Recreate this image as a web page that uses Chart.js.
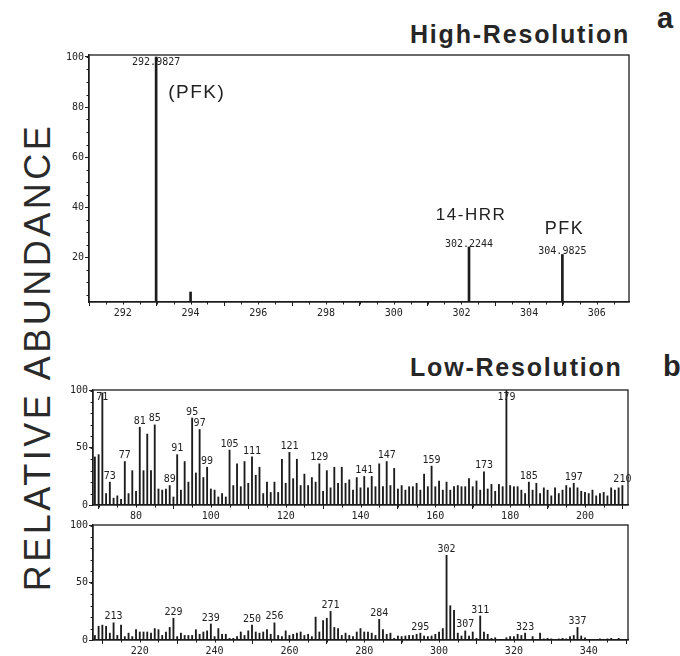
<!DOCTYPE html>
<html>
<head>
<meta charset="utf-8">
<script src="https://cdn.jsdelivr.net/npm/chart.js@4/dist/chart.umd.min.js"></script>
<style>
  html, body { margin:0; padding:0; background:#fff; }
  body { width:680px; height:656px; position:relative; overflow:hidden; font-family:"Liberation Sans", Arial, sans-serif; color:#262626; }
  canvas { position:absolute; left:0; }
  .ttl { position:absolute; font-weight:bold; font-size:25px; line-height:25px; letter-spacing:1.8px; white-space:nowrap; }
  .let { position:absolute; font-weight:bold; font-size:29px; line-height:29px; white-space:nowrap; }
  .ylab { position:absolute; width:520px; left:-222px; top:338px; text-align:center; font-size:36px; line-height:38px; letter-spacing:3.5px; transform:rotate(-90deg); transform-origin:50% 50%; white-space:nowrap; color:#2a2a2a; }
</style>
</head>
<body>
<div class="ttl" style="left:410px; top:22px;">High-Resolution</div>
<div class="let" style="left:657px; top:4px;">a</div>
<div class="ttl" style="left:410px; top:355px;">Low-Resolution</div>
<div class="let" style="left:663px; top:352px;">b</div>
<div class="ylab">RELATIVE ABUNDANCE</div>

<canvas id="cA" width="680" height="330" style="top:0px"></canvas>
<canvas id="cB1" width="680" height="150" style="top:380px"></canvas>
<canvas id="cB2" width="680" height="141" style="top:515px"></canvas>

<script>
// ---------- DATA ----------
// (a) high-resolution scan
const hiMass   = [292.9827, 294.0, 302.2244, 303.25, 304.9825];
const hiAbund  = [100, 6, 24, 1.5, 21];
const hiPeakLabels = ['292.9827', '', '302.2244', '', '304.9825'];
const hiXTicks = [292, 294, 296, 298, 300, 302, 304, 306];
const hiYTicks = [20, 40, 60, 80, 100];

// (b) low-resolution scan, upper trace (m/z 69-210)
const lowMass1 = [69,70,71,72,73,74,75,76,77,78,79,80,81,82,83,84,85,86,87,88,89,90,
  91,92,93,94,95,96,97,98,99,100,101,102,103,104,105,106,107,108,109,110,
  111,112,113,114,115,116,117,118,119,120,121,122,123,124,125,126,127,128,129,130,
  131,132,133,134,135,136,137,138,139,140,141,142,143,144,145,146,147,148,149,150,
  151,152,153,154,155,156,157,158,159,160,161,162,163,164,165,166,167,168,169,170,
  171,172,173,174,175,176,177,178,179,180,181,182,183,184,185,186,187,188,189,190,
  191,192,193,194,195,196,197,198,199,200,201,202,203,204,205,206,207,208,209,210];
const lowAbund1 = [42,44,98,10,20,6,8,5,38,10,30,12,68,30,62,30,70,14,13,14,17,7,
  44,13,38,20,76,28,66,24,33,14,13,7,10,7,48,17,36,16,38,19,
  42,26,33,10,20,11,20,11,40,19,46,23,40,17,27,17,24,20,36,12,
  30,15,33,19,33,19,22,13,24,15,25,15,25,16,36,16,38,17,32,14,
  17,13,16,16,19,13,27,16,34,16,21,13,20,13,16,17,16,16,23,16,
  21,13,29,14,18,12,18,16,100,17,16,16,13,10,20,13,19,10,15,13,
  8,15,10,13,17,15,19,15,12,11,10,13,8,10,11,8,15,13,15,17];
const lowLabeled1 = [71,73,77,81,85,89,91,95,97,99,105,111,121,129,141,147,159,173,179,185,197,210];
const lowXTicks1 = [80, 100, 120, 140, 160, 180, 200];

// (b) low-resolution scan, lower trace (m/z 208-348)
const lowMass2 = [208,209,210,211,212,213,214,215,216,217,218,219,220,
  221,222,223,224,225,226,227,228,229,230,231,232,233,234,235,236,237,238,239,240,
  241,242,243,244,245,246,247,248,249,250,251,252,253,254,255,256,257,258,259,260,
  261,262,263,264,265,266,267,268,269,270,271,272,273,274,275,276,277,278,279,280,
  281,282,283,284,285,286,287,288,289,290,291,292,293,294,295,296,297,298,299,300,
  301,302,303,304,305,306,307,308,309,310,311,312,313,314,315,316,317,318,319,320,
  321,322,323,324,325,326,327,328,329,330,331,332,333,334,335,336,337,338,339,340,
  341,342,343,344,345,346,347,348];
const lowAbund2 = [4,12,13,12,6,15,4,13,3,6,3,9,7,
  7,7,6,10,9,4,7,11,19,3,6,4,4,4,9,5,7,8,14,3,
  10,5,5,1.5,1.5,3,7,4,8,13,7,6,7,9,5,15,4,3,8,4,
  5,6,7,4,5,3,20,7,17,19,25,11,10,4,6,4,3,7,10,7,
  7,6,4,18,9,5,6,1.5,3.5,3,3.5,4,4,5,6,3.5,3,3.5,5,7,
  10,74,30,26,6,3.5,8,3.5,7,1.5,21,7,5,1.5,2,0.5,0.5,2,3,3,
  5,4,6,0.5,3,0.5,6,1,1.5,1,0.5,1,1.5,1,3,4,11,3.5,2,0.5,
  0.5,0.5,1,0.5,1,1.5,0.5,1.5];
const lowLabeled2 = [213,229,239,250,256,271,284,295,302,307,311,323,337];
const lowXTicks2 = [220, 240, 260, 280, 300, 320, 340];
const lowYTicks = [0, 50, 100];

// ---------- RENDERING ----------
const INK = '#1c1c1c';
const MONO = '"DejaVu Sans Mono", "Liberation Mono", monospace';

const framePlugin = {
  id: 'frame',
  afterDatasetsDraw(chart, args, o) {
    const {ctx, chartArea: a, scales: {x, y}} = chart;
    ctx.save();
    ctx.strokeStyle = INK;
    ctx.lineWidth = 1.3;
    ctx.strokeRect(a.left, a.top, a.right - a.left, a.bottom - a.top);
    // minor ticks
    ctx.lineWidth = 1;
    ctx.beginPath();
    for (let v = Math.ceil(x.min / o.xMinor) * o.xMinor; v <= x.max; v += o.xMinor) {
      const px = Math.round(x.getPixelForValue(v)) + 0.5;
      ctx.moveTo(px, a.bottom); ctx.lineTo(px, a.bottom + 2.5);
    }
    for (let v = Math.ceil(y.min / o.yMinor) * o.yMinor; v <= y.max; v += o.yMinor) {
      const py = Math.round(y.getPixelForValue(v)) + 0.5;
      ctx.moveTo(a.left, py); ctx.lineTo(a.left - 2.5, py);
    }
    ctx.stroke();
    // peak labels
    ctx.fillStyle = '#222';
    ctx.font = '10px ' + MONO;
    ctx.textAlign = 'center';
    ctx.textBaseline = 'middle';
    (o.labels || []).forEach(l => {
      if (!l.text) return;
      const px = x.getPixelForValue(l.x);
      const top = y.getPixelForValue(l.y);
      const py = Math.max(top - o.gap, a.top + 7);
      ctx.fillText(l.text, px, py);
    });
    // compound annotations
    (o.notes || []).forEach(n => {
      ctx.font = n.font;
      ctx.textAlign = n.align;
      if (ctx.letterSpacing !== undefined) ctx.letterSpacing = '1.5px';
      const px = x.getPixelForValue(n.x) + n.dx;
      const py = n.fromTop ? a.top + n.dy : y.getPixelForValue(n.y) + n.dy;
      ctx.fillText(n.text, px, py);
    });
    ctx.restore();
  }
};

function makeChart(id, masses, abund, cfg) {
  const ctx = document.getElementById(id);
  return new Chart(ctx, {
    type: 'bar',
    data: {
      datasets: [{
        data: masses.map((m, i) => ({x: m, y: abund[i]})),
        backgroundColor: INK,
        borderWidth: 0,
        barThickness: cfg.barW,
        grouped: false
      }]
    },
    options: {
      responsive: false,
      animation: false,
      devicePixelRatio: 1,
      layout: { padding: cfg.pad },
      plugins: {
        legend: { display: false },
        tooltip: { enabled: false },
        frame: cfg.frame
      },
      scales: {
        x: {
          type: 'linear',
          offset: false,
          min: cfg.xmin, max: cfg.xmax,
          afterBuildTicks: s => { s.ticks = cfg.xticks.map(v => ({value: v})); },
          afterFit: s => { s.height = cfg.xh; },
          grid: { display: true, drawOnChartArea: false, drawTicks: true, tickLength: 4, color: INK, lineWidth: 1 },
          border: { display: true, color: INK, width: 1.3 },
          ticks: { font: { family: MONO, size: 10 }, color: '#222', padding: 1, maxRotation: 0, autoSkip: false,
                   callback: v => String(v) }
        },
        y: {
          type: 'linear',
          min: cfg.ymin, max: cfg.ymax,
          afterBuildTicks: s => { s.ticks = cfg.yticks.map(v => ({value: v})); },
          afterFit: s => { s.width = 30; },
          grid: { display: true, drawOnChartArea: false, drawTicks: true, tickLength: 4, color: INK, lineWidth: 1 },
          border: { display: true, color: INK, width: 1.3 },
          ticks: { font: { family: MONO, size: 10 }, color: '#222', padding: 1, autoSkip: false,
                   callback: v => String(v) }
        }
      }
    },
    plugins: [framePlugin]
  });
}

// panel a
makeChart('cA', hiMass, hiAbund, {
  barW: 2,
  pad: { left: 59, right: 51, top: 55, bottom: 8 },
  xh: 20,
  xmin: 291, xmax: 306.95, ymin: 2, ymax: 100.8,
  xticks: hiXTicks, yticks: hiYTicks,
  frame: {
    xMinor: 0.5, yMinor: 5, gap: 3,
    labels: hiMass.map((m, i) => ({x: m, y: hiAbund[i], text: hiPeakLabels[i]})),
    notes: [
      { text: '(PFK)', x: hiMass[0], dx: 12, fromTop: true, dy: 38, font: '19px "Liberation Sans", Arial, sans-serif', align: 'left' },
      { text: '14-HRR', x: hiMass[2], dx: 2, y: hiAbund[2], dy: -32, font: '17px "Liberation Sans", Arial, sans-serif', align: 'center' },
      { text: 'PFK', x: hiMass[4], dx: 2, y: hiAbund[4], dy: -25, font: '18px "Liberation Sans", Arial, sans-serif', align: 'center' }
    ]
  }
});

function lowLabels(masses, abund, list) {
  return list.map(m => ({x: m, y: abund[masses.indexOf(m)], text: String(m)}));
}

makeChart('cB1', lowMass1, lowAbund1, {
  barW: 1.2,
  pad: { left: 63, right: 52, top: 10, bottom: 5 },
  xh: 20,
  xmin: 68.5, xmax: 211.5, ymin: 0, ymax: 100.5,
  xticks: lowXTicks1, yticks: lowYTicks,
  frame: { xMinor: 5, yMinor: 10, gap: 6, labels: lowLabels(lowMass1, lowAbund1, lowLabeled1) }
});

makeChart('cB2', lowMass2, lowAbund2, {
  barW: 1.2,
  pad: { left: 63, right: 52, top: 10, bottom: 0 },
  xh: 16,
  xmin: 207.5, xmax: 350.5, ymin: 0, ymax: 100.5,
  xticks: lowXTicks2, yticks: lowYTicks,
  frame: { xMinor: 5, yMinor: 10, gap: 6, labels: lowLabels(lowMass2, lowAbund2, lowLabeled2) }
});
</script>
</body>
</html>
